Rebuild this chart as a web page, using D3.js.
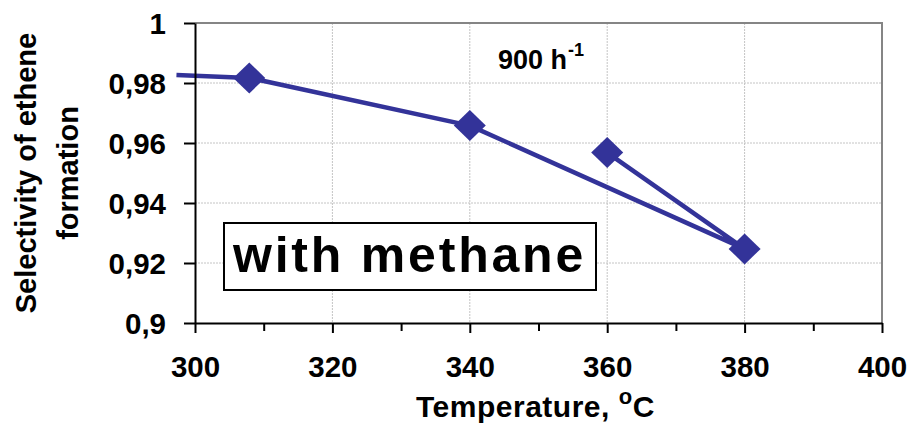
<!DOCTYPE html>
<html>
<head>
<meta charset="utf-8">
<script src="https://cdn.jsdelivr.net/npm/d3@7"></script>
<style>
  html, body { margin: 0; padding: 0; background: #fff; }
  svg { display: block; font-family: "Liberation Sans", Arial, sans-serif; }
</style>
</head>
<body>
<svg id="chart" width="913" height="442"></svg>
<script>
// ---- data ----
const temperature = [297.3, 307.9, 340, 380, 360];
const selectivity = [0.9827, 0.9817, 0.9658, 0.9247, 0.9568];
const showMarker = [false, true, true, true, true];
const xTicks = [300, 320, 340, 360, 380, 400];
const xMinorTicks = [310, 330, 350, 370, 390];
const yTicks = [0.9, 0.92, 0.94, 0.96, 0.98, 1];
const yTickLabels = ["0,9", "0,92", "0,94", "0,96", "0,98", "1"];
const xTitle = "Temperature, ";
const yTitleLines = ["Selectivity of ethene", "formation"];
const annotation = "with methane";
const rateLabel = "900 h";

const svg = d3.select("#chart");
const pLeft = 195, pRight = 882, pTop = 23, pBottom = 323;
const x = d3.scaleLinear().domain([300, 400]).range([pLeft, pRight]);
const y = d3.scaleLinear().domain([0.9, 1]).range([pBottom, pTop]);
const color = "#333399";

// gridlines
const grid = svg.append("g");
grid.selectAll("line.h").data(yTicks.slice(1, -1)).join("line")
  .attr("x1", pLeft).attr("x2", pRight)
  .attr("y1", d => y(d)).attr("y2", d => y(d))
  .attr("stroke", "#c4c4c4").attr("stroke-width", 1).attr("stroke-dasharray", "2,1");
grid.selectAll("line.v").data(xTicks.slice(1, -1)).join("line")
  .attr("y1", pTop).attr("y2", pBottom)
  .attr("x1", d => x(d)).attr("x2", d => x(d))
  .attr("stroke", "#c4c4c4").attr("stroke-width", 1).attr("stroke-dasharray", "2,1");

// plot-area top and right borders
svg.append("path")
  .attr("d", `M${pLeft},${pTop}H${pRight}V${pBottom}`)
  .attr("fill", "none").attr("stroke", "#858585").attr("stroke-width", 2);

// annotation box
svg.append("rect").attr("x", 224).attr("y", 223).attr("width", 372).attr("height", 67)
  .attr("fill", "#fff").attr("stroke", "#000").attr("stroke-width", 2);
svg.append("text").attr("x", 409.5).attr("y", 272).attr("text-anchor", "middle")
  .attr("font-size", 50).attr("font-weight", "bold").attr("letter-spacing", 2.8)
  .text(annotation);

// rate label
const rt = svg.append("text").attr("x", 498).attr("y", 69)
  .attr("font-size", 27).attr("font-weight", "bold");
rt.append("tspan").text(rateLabel);
rt.append("tspan").attr("dx", 1).attr("dy", -13).attr("font-size", 18).text("-1");

// data line
const pts = temperature.map((t, i) => ({t, s: selectivity[i], m: showMarker[i]}));
svg.append("path").datum(pts)
  .attr("d", d3.line().x(d => x(d.t)).y(d => y(d.s)))
  .attr("fill", "none").attr("stroke", color).attr("stroke-width", 4.5)
  .attr("stroke-linejoin", "round");

// axes
const xAxis = svg.append("g").attr("transform", `translate(0,${pBottom})`)
  .call(d3.axisBottom(x).tickValues(xTicks).tickSize(10).tickSizeOuter(0).tickFormat(d3.format("d")));
const xMinor = svg.append("g").attr("transform", `translate(0,${pBottom})`)
  .call(d3.axisBottom(x).tickValues(xMinorTicks).tickSize(8).tickSizeOuter(0).tickFormat(""));
xMinor.select(".domain").remove();
const yAxis = svg.append("g").attr("transform", `translate(${pLeft},0)`)
  .call(d3.axisLeft(y).tickValues(yTicks).tickSize(11).tickSizeOuter(0)
    .tickFormat((d, i) => yTickLabels[i]));
[xAxis, xMinor, yAxis].forEach(g => {
  g.select(".domain").attr("stroke", "#000").attr("stroke-width", 2);
  g.selectAll(".tick line").attr("stroke", "#000").attr("stroke-width", 2);
  g.selectAll(".tick text").attr("fill", "#000").attr("font-size", 29.5)
    .attr("font-weight", "bold").attr("font-family", "'Liberation Sans', Arial, sans-serif");
});
xAxis.selectAll(".tick text").attr("y", 0).attr("dy", null).attr("transform", "translate(0,54)");
yAxis.selectAll(".tick text").attr("x", -29).attr("dy", "0.36em");

// markers
const mr = 16;
svg.selectAll("path.mk").data(pts.filter(d => d.m)).join("path")
  .attr("class", "mk")
  .attr("transform", d => `translate(${x(d.t)},${y(d.s)})`)
  .attr("d", `M0,${-mr + 0.5}L${mr},0L0,${mr - 0.5}L${-mr},0Z`)
  .attr("fill", color);

// x title
const xt = svg.append("text").attr("x", 416).attr("y", 417)
  .attr("font-size", 30).attr("font-weight", "bold").attr("letter-spacing", 0.5);
xt.append("tspan").text(xTitle);
xt.append("tspan").attr("dy", -13).attr("font-size", 22).text("o");
xt.append("tspan").attr("dy", 13).text("C");

// y title
const yt = svg.append("text").attr("transform", "translate(0,173) rotate(-90)")
  .attr("text-anchor", "middle").attr("font-size", 29).attr("font-weight", "bold");
yt.append("tspan").attr("x", 0).attr("y", 36).text(yTitleLines[0]);
yt.append("tspan").attr("x", 0).attr("y", 78).text(yTitleLines[1]);
</script>
</body>
</html>
